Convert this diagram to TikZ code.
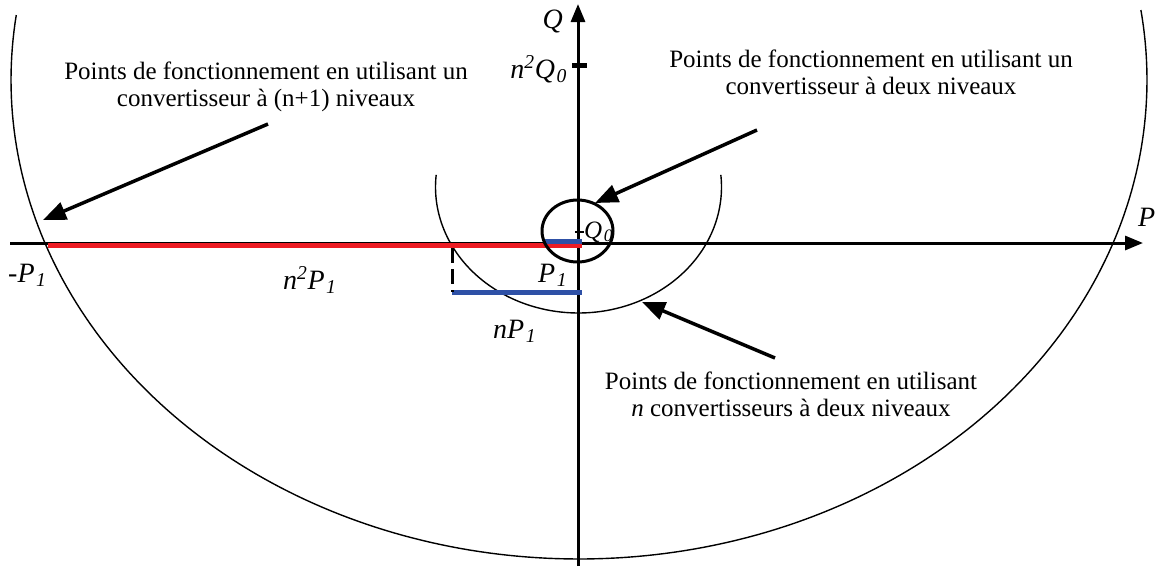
\documentclass[tikz,border=0pt]{standalone}
\usepackage{fontspec}
\setmainfont{Liberation Serif}
\usetikzlibrary{arrows.meta}
\newcommand{\sbs}[1]{\kern1.5pt\textsubscript{#1}}
\begin{document}
\begin{tikzpicture}[x=1pt,y=-1pt,
  axis/.style={line width=3pt,-{Triangle[length=18pt,width=14pt]}},
  note/.style={line width=3.5pt,-{Triangle[length=23pt,width=18pt]}},
  txt/.style={inner sep=0pt,align=center,font=\fontsize{25}{27}\selectfont},
  lab/.style={inner sep=0pt,font=\fontsize{28}{30}\selectfont\itshape},
  redline/.style={line width=5pt,draw={rgb,255:red,237;green,28;blue,36}},
  blueline/.style={line width=5pt,draw={rgb,255:red,46;green,80;blue,166}},
  curve/.style={line width=1.4pt}]
\useasboundingbox (0,0) rectangle (1158,571);
% curves
\draw[curve] plot[domain=-8.4:187.8,samples=200] ({579+568*cos(\x)},{80+479*sin(\x)});
\draw[curve] plot[domain=-5.5:185.5,samples=120] ({578.5+143*cos(\x)},{187+126*sin(\x)});
% axes
\coordinate (xs) at (10,243);
\coordinate (xe) at (1143,243);
\coordinate (ys) at (578,566);
\coordinate (ye) at (578,4);
\draw[axis] (xs) -- (xe);
\draw[axis] (ys) -- (ye);
% colored segments
\draw[redline] (48,245) -- (582,245);
\draw[blueline] (545,241) -- (582,241);
\draw[blueline] (452,292) -- (582,292);
\draw[line width=3pt,dash pattern=on 15pt off 6pt] (452,248) -- (452,292);
% small circle
\draw[line width=3pt] (577.5,231) ellipse [x radius=35.5, y radius=31];
% ticks
\draw[line width=5pt] (572,65) -- (587,65);
\draw[line width=2.5pt] (575,232) -- (584,232);
% labels
\node[lab,anchor=base east] (lQ) at (563,28) {Q};
\node[lab,anchor=base east] (lnQ) at (567,78) {n\textsuperscript{2}Q\sbs{0}};
\node[lab,anchor=base west,font=\fontsize{25}{27}\selectfont\itshape] (lQ0) at (584,238) {Q\sbs{0}};
\node[lab,anchor=base west] (lP) at (1138,226) {P};
\node[lab,anchor=base west] (lmP) at (8,282) {-P\sbs{1}};
\node[lab,anchor=base west] (ln2P) at (283,289) {n\textsuperscript{2}P\sbs{1}};
\node[lab,anchor=base west] (lP1) at (538,282) {P\sbs{1}};
\node[lab,anchor=base west] (lnP) at (493,338) {nP\sbs{1}};
% text blocks (anchor = baseline of last line)
\node[txt,anchor=base] (t1) at (266,106) {Points de fonctionnement en utilisant un\\convertisseur à (n+1) niveaux};
\node[txt,anchor=base] (t2) at (871,94) {Points de fonctionnement en utilisant un\\convertisseur à deux niveaux};
\node[txt,anchor=base] (t3) at (791,416) {Points de fonctionnement en utilisant\\\textit{n} convertisseurs à deux niveaux};
% arrows
\coordinate (a1s) at (268,124);
\coordinate (a1e) at (43,220);
\coordinate (a2s) at (757,130);
\coordinate (a2e) at (595,203);
\coordinate (a3s) at (775,358);
\coordinate (a3e) at (642,302);
\draw[note] (a1s) -- (a1e);
\draw[note] (a2s) -- (a2e);
\draw[note] (a3s) -- (a3e);
\end{tikzpicture}
\end{document}
